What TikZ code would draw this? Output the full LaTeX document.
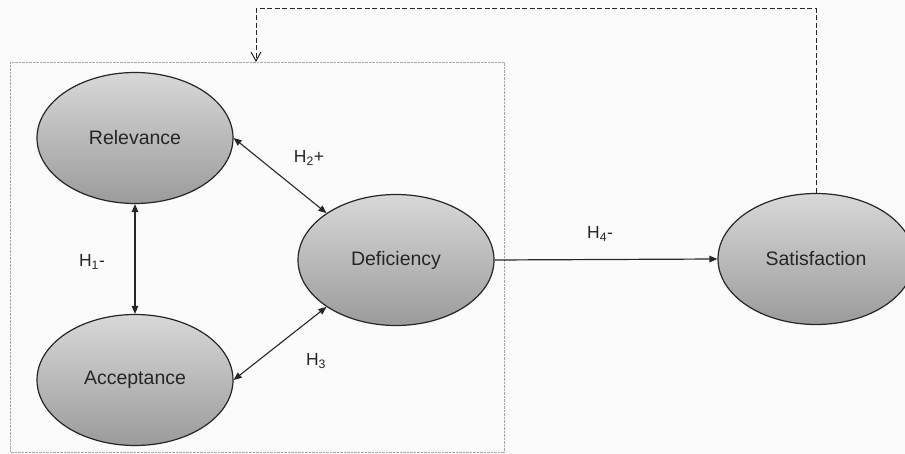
\documentclass[tikz,border=0pt]{standalone}
\usepackage{fontspec}
\setmainfont{Liberation Sans}
\usetikzlibrary{arrows.meta,shapes.geometric}
\definecolor{elltop}{RGB}{216,216,216}
\definecolor{ellbot}{RGB}{155,155,155}
\definecolor{bg}{RGB}{251,251,251}
\definecolor{boxline}{RGB}{165,165,165}
\tikzset{
  construct/.style={ellipse, draw=black!85, line width=1.2pt, minimum width=196pt, minimum height=131pt,
    top color=elltop, bottom color=ellbot, font=\fontsize{19.5}{21}\selectfont, text=black!85, inner sep=0pt},
  link/.style={line width=1.1pt, draw=black!85, {Triangle[length=8pt,width=6.5pt]}-{Triangle[length=8pt,width=6.5pt]}},
  onelink/.style={line width=1.2pt, draw=black!85, -{Triangle[length=8pt,width=6.5pt]}},
  feedback/.style={line width=1pt, draw=black!85, dash pattern=on 5pt off 2.5pt, -{Straight Barb[length=9pt,width=10pt,line width=1pt]}},
  hyp/.style={font=\fontsize{17.5}{19}\selectfont, text=black!85, inner sep=0pt},
  frame/.style={draw=boxline, line width=0.8pt, dash pattern=on 0.8pt off 0.6pt}
}
\begin{document}
\begin{tikzpicture}[x=1pt,y=-1pt]
\useasboundingbox (0,0) rectangle (905,454);
\fill[bg] (0,0) rectangle (905,454);
\begin{scope}
\clip (0,0) rectangle (905,454);
\draw[frame] (10,62) rectangle (504,452);
\node[construct] (rel) at (135,138) {Relevance};
\node[construct] (acc) at (135,380) {Acceptance};
\node[construct] (def) at (396,260) {Deficiency};
\node[construct] (sat) at (816,259) {Satisfaction};
\coordinate (fbtop) at (816,9);
\coordinate (fbleft) at (256,9);
\coordinate (fbend) at (256,62);
\draw[link] (rel.south) -- (acc.north);
\draw[link] (rel.east) -- (def.146);
\draw[link] (acc.east) -- (def.214);
\draw[onelink] (def.east) -- (sat.west);
\draw[feedback] (sat.north) -- (fbtop) -- (fbleft) -- (fbend);
\node[hyp] (h1) at (92,262) {H\textsubscript{1}-};
\node[hyp] (h2) at (309,158) {H\textsubscript{2}+};
\node[hyp] (h3) at (316,361) {H\textsubscript{3}};
\node[hyp] (h4) at (600,234) {H\textsubscript{4}-};
\end{scope}
\end{tikzpicture}
\end{document}
